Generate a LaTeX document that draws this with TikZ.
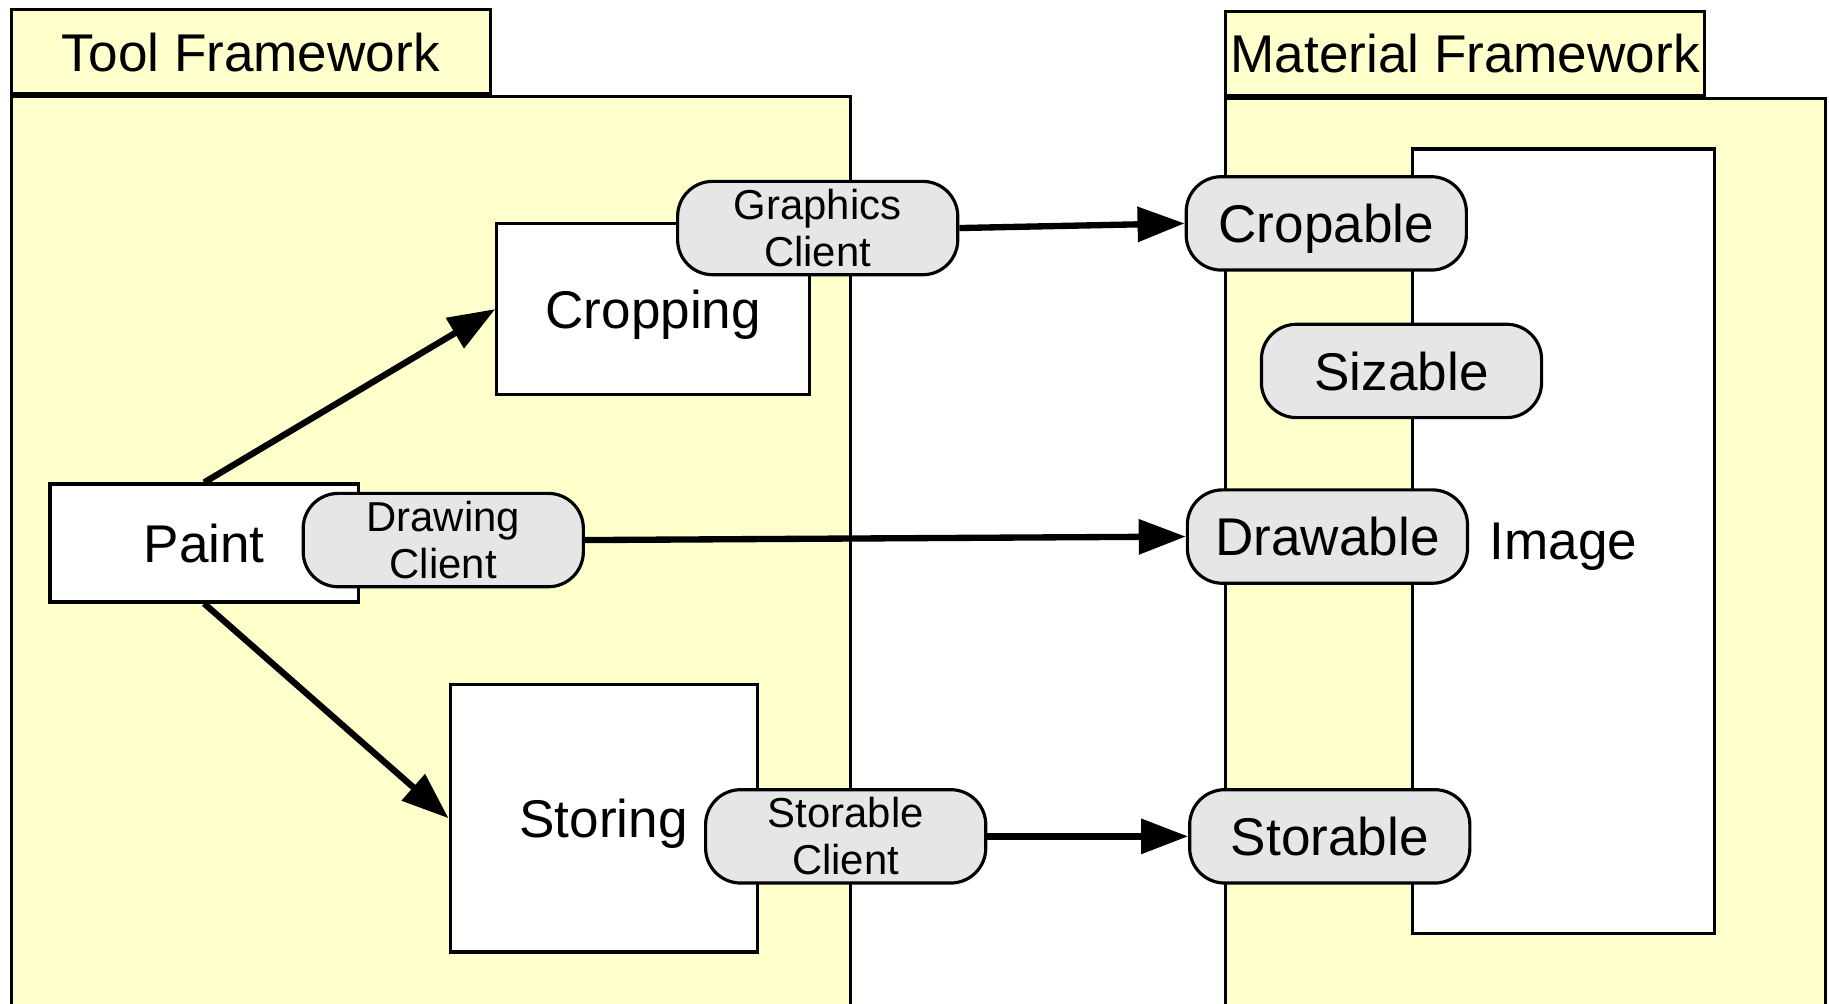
\documentclass[tikz,border=0pt]{standalone}
\usepackage{fontspec}
\setmainfont{Liberation Sans}
\usetikzlibrary{arrows.meta}
\definecolor{pkgfill}{HTML}{FFFFCC}
\definecolor{portfill}{HTML}{E6E6E6}
\tikzset{
  bigtext/.style={font=\fontsize{15.1}{18}\selectfont, text depth=0pt},
  smalltext/.style={font=\fontsize{11.9}{13.3}\selectfont},
  pkgbox/.style={draw=black, line width=0.9pt, fill=pkgfill, inner sep=0pt},
  compbox/.style={draw=black, line width=0.9pt, fill=white, inner sep=0pt, bigtext},
  port/.style={draw=black, line width=0.9pt, fill=portfill, rounded corners=0.35cm,
    minimum width=2.8cm, minimum height=0.933cm, inner sep=0pt, align=center},
  link/.style={line width=1.8pt, -{Triangle[length=0.47cm,width=0.34cm]}},
}
\begin{document}
\begin{tikzpicture}[x=0.011665cm, y=-0.011665cm]
\useasboundingbox (0,0) rectangle (1568,860);

% packages
\node[pkgbox, minimum width=8.387cm, minimum height=9.530cm] (toolpkg) at (369.5,491.5) {};
\node[pkgbox, bigtext, minimum width=4.783cm, minimum height=0.840cm] (tooltab) at (215,44.5) {Tool Framework};
\node[pkgbox, minimum width=5.996cm, minimum height=9.507cm] (matpkg) at (1308,492.5) {};
\node[pkgbox, bigtext, minimum width=4.783cm, minimum height=0.840cm] (mattab) at (1256,46) {Material Framework};

% components of the tool framework
\node[compbox, minimum width=3.126cm, minimum height=1.703cm] (crop) at (560,265) {Cropping};
\node[compbox, minimum width=3.080cm, minimum height=1.178cm] (paint) at (175,465.5) {Paint};
\node[compbox, minimum width=3.068cm, minimum height=2.671cm] (store) at (517.5,701.5) {Storing};

% material
\node[compbox, minimum width=3.021cm, minimum height=7.839cm] (image) at (1340.5,464) {Image};

% client ports
\node[port, smalltext] (gclient) at (701,195.5) {Graphics\\Client};
\node[port, smalltext] (dclient) at (380,463) {Drawing\\Client};
\node[port, smalltext] (sclient) at (725,717) {Storable\\Client};

% material ports
\node[port, bigtext] (cropable) at (1137,191.5) {Cropable};
\node[port, bigtext] (sizable) at (1201.5,318) {Sizable};
\node[port, bigtext] (drawable) at (1138,460) {Drawable};
\node[port, bigtext] (storable) at (1140,717) {Storable};

% connections
\draw[link] (paint.north) -- (crop.west);
\draw[link] (paint.south) -- (store.west);
\draw[link] (gclient.east) -- (cropable.west);
\draw[link] (dclient.east) -- (drawable.west);
\draw[link] (sclient.east) -- (storable.west);
\end{tikzpicture}
\end{document}
